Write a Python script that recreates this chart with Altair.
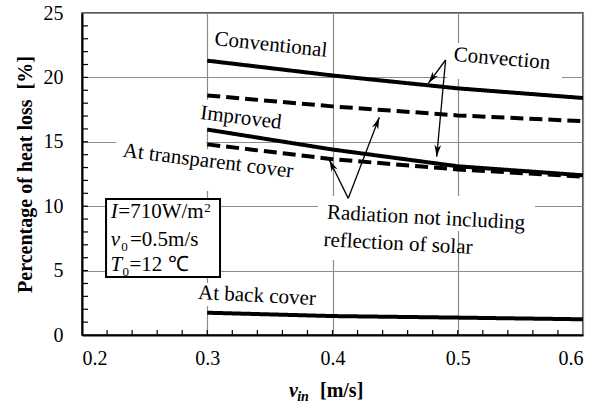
import math
import altair as alt
import pandas as pd

# ---- series values (percentage of heat loss vs inlet air velocity) ----
v_in = [0.3, 0.4, 0.5, 0.6]
conv_convection = [21.3, 20.15, 19.15, 18.4]
conv_radiation = [18.6, 17.75, 17.05, 16.6]
impr_convection = [15.95, 14.4, 13.1, 12.4]
impr_radiation = [14.8, 13.65, 12.85, 12.3]
back_cover = [1.73, 1.47, 1.35, 1.22]

x_ticks = [0.2, 0.3, 0.4, 0.5, 0.6]
y_ticks = [0, 5, 10, 15, 20, 25]
x_minor = [0.22, 0.24, 0.26, 0.28, 0.3, 0.32, 0.34, 0.36, 0.38, 0.4,
           0.42, 0.44, 0.46, 0.48, 0.5, 0.52, 0.54, 0.56, 0.58]
y_minor = [1, 2, 3, 4, 5, 6, 7, 8, 9, 10, 11, 12, 13, 14, 15, 16, 17, 18,
           19, 20, 21, 22, 23, 24]

# ---- annotation text ----
label_text = ["Conventional", "Convection", "Improved", "At transparent cover",
              "Radiation not including", "reflection of solar", "At back cover"]
label_x = [0.3509, 0.5353, 0.3269, 0.3006, 0.4747, 0.4523, 0.3397]
label_y = [22.52, 21.43, 16.85, 13.49, 9.08, 7.07, 3.03]
label_angle = [6, 5, 7, 7, 3, 3, 3]

# white backing boxes behind the annotation text
box_x = [0.3014, 0.4914, 0.2910, 0.2271, 0.2990, 0.3884, 0.3860, 0.2886]
box_x2 = [0.3972, 0.5832, 0.3637, 0.2990, 0.3741, 0.5617, 0.4984, 0.3948]
box_y = [23.84, 22.67, 18.25, 15.45, 14.45, 10.79, 8.23, 4.04]
box_y2 = [21.51, 19.88, 16.07, 11.65, 11.18, 8.07, 5.82, 2.25]

# arrows: (origin) -> (tip)
arrow_x0 = [0.4903, 0.4903, 0.4126, 0.4126]
arrow_y0 = [21.35, 21.35, 10.61, 10.61]
arrow_x1 = [0.4765, 0.4832, 0.4374, 0.3975]
arrow_y1 = [19.54, 13.84, 16.90, 13.59]

# condition box
cond_box = dict(x=0.2192, x2=0.3102, y=10.56, y2=4.50)
cond_main_text = ["=710W/m", "=0.5m/s", "=12 \u2103"]
cond_main_x = [0.2290, 0.2383, 0.2379]
cond_main_y = [9.08, 6.91, 4.97]
cond_sym_text = ["I", "v", "T"]
cond_sym_x = [0.2229, 0.2229, 0.2228]
cond_sym_y = [9.08, 6.91, 4.97]
cond_small_text = ["2", "0", "0"]
cond_small_x = [0.2976, 0.2313, 0.2323]
cond_small_y = [9.55, 6.52, 4.58]

# x-axis title pieces
xt_sym = dict(t="v", x=0.3653, y=-4.81)
xt_sub = dict(t="in", x=0.3718, y=-5.12)
xt_unit = dict(t="[m/s]", x=0.3900, y=-4.81)

W, H = 501, 322
X_DOM = [0.2, 0.6]
Y_DOM = [0, 25]
FONT = "Liberation Serif, Times New Roman, serif"

xs = alt.Scale(domain=X_DOM, nice=False, zero=False)
ys = alt.Scale(domain=Y_DOM, nice=False)

rows = []
for name, kind, vals in [
    ("conventional", "Convection", conv_convection),
    ("conventional", "Radiation", conv_radiation),
    ("improved", "Convection", impr_convection),
    ("improved", "Radiation", impr_radiation),
    ("back", "Convection", back_cover),
]:
    for xv, yv in zip(v_in, vals):
        rows.append({"series": name + "-" + kind, "kind": kind, "v": xv, "p": yv})
lines_df = pd.DataFrame(rows)

base = alt.Chart(lines_df).encode(
    x=alt.X("v:Q", scale=xs,
            axis=alt.Axis(values=x_ticks, format=".1f", title=None, grid=True,
                          ticks=False, labelPadding=13)),
    y=alt.Y("p:Q", scale=ys,
            axis=alt.Axis(values=y_ticks, format="d", ticks=False, grid=True,
                          labelPadding=19,
                          title="Percentage of heat loss\u00a0\u00a0[%]",
                          titleFont=FONT, titleFontWeight="bold",
                          titleFontSize=20, titleX=-57, titleY=H / 2,
                          titleAngle=270, titleAlign="center",
                          titleBaseline="middle")),
)


def text_layer(df, size, **kw):
    return alt.Chart(df).mark_text(font=FONT, fontSize=size, color="black", **kw).encode(
        x=alt.X("x:Q", scale=xs), y=alt.Y("y:Q", scale=ys), text="t:N")


# minor ticks drawn inward
ymin_ticks = alt.Chart(pd.DataFrame({"t": y_minor})).mark_rule(
    color="black", strokeWidth=1.2).encode(
    y=alt.Y("t:Q", scale=ys), x=alt.value(0), x2=alt.value(6))
xmin_ticks = alt.Chart(pd.DataFrame({"t": x_minor})).mark_rule(
    color="black", strokeWidth=1.2).encode(
    x=alt.X("t:Q", scale=xs), y=alt.value(H), y2=alt.value(H - 5))

boxes = alt.Chart(pd.DataFrame({"x": box_x, "x2": box_x2, "y": box_y, "y2": box_y2})
                  ).mark_rect(color="white").encode(
    x=alt.X("x:Q", scale=xs), x2="x2:Q", y=alt.Y("y:Q", scale=ys), y2="y2:Q")

lines = base.mark_line(color="black", strokeWidth=4, strokeCap="butt").encode(
    detail="series:N",
    strokeDash=alt.StrokeDash("kind:N", scale=alt.Scale(
        domain=["Convection", "Radiation"], range=[[1, 0], [13, 6]]), legend=None),
)

# arrows
px_per_x = W / (X_DOM[1] - X_DOM[0])
px_per_y = H / (Y_DOM[1] - Y_DOM[0])
angles = []
for x0, y0, x1, y1 in zip(arrow_x0, arrow_y0, arrow_x1, arrow_y1):
    dx = (x1 - x0) * px_per_x
    dy = -(y1 - y0) * px_per_y
    angles.append(math.degrees(math.atan2(dx, -dy)) % 360)
arrow_df = pd.DataFrame({"x0": arrow_x0, "y0": arrow_y0, "x1": arrow_x1,
                         "y1": arrow_y1, "ang": angles})
shafts = alt.Chart(arrow_df).mark_rule(color="black", strokeWidth=1.3).encode(
    x=alt.X("x0:Q", scale=xs), y=alt.Y("y0:Q", scale=ys), x2="x1:Q", y2="y1:Q")
heads = alt.Chart(arrow_df).mark_point(
    shape="M0,0 L0.45,1.6 L0,1.15 L-0.45,1.6 Z", filled=True, color="black",
    opacity=1, size=220, strokeWidth=0).encode(
    x=alt.X("x1:Q", scale=xs), y=alt.Y("y1:Q", scale=ys),
    angle=alt.Angle("ang:Q", scale=None))

labels = alt.Chart(pd.DataFrame({"t": label_text, "x": label_x, "y": label_y,
                                 "a": label_angle})).mark_text(
    font=FONT, fontSize=21, color="black", align="center", baseline="middle").encode(
    x=alt.X("x:Q", scale=xs), y=alt.Y("y:Q", scale=ys), text="t:N",
    angle=alt.Angle("a:Q", scale=None))

cond_rect = alt.Chart(pd.DataFrame([cond_box])).mark_rect(
    fill="white", stroke="black", strokeWidth=2).encode(
    x=alt.X("x:Q", scale=xs), x2="x2:Q", y=alt.Y("y:Q", scale=ys), y2="y2:Q")
cond_main = text_layer(pd.DataFrame({"t": cond_main_text, "x": cond_main_x,
                                     "y": cond_main_y}), 21,
                       align="left", baseline="alphabetic")
cond_sym = text_layer(pd.DataFrame({"t": cond_sym_text, "x": cond_sym_x,
                                    "y": cond_sym_y}), 21, fontStyle="italic",
                      align="left", baseline="alphabetic")
cond_small = text_layer(pd.DataFrame({"t": cond_small_text, "x": cond_small_x,
                                      "y": cond_small_y}), 13,
                        align="left", baseline="alphabetic")

xt_a = text_layer(pd.DataFrame([xt_sym]), 20, fontWeight="bold", fontStyle="italic",
                  align="left", baseline="alphabetic")
xt_b = text_layer(pd.DataFrame([xt_sub]), 14, fontWeight="bold", fontStyle="italic",
                  align="left", baseline="alphabetic")
xt_c = text_layer(pd.DataFrame([xt_unit]), 20, fontWeight="bold",
                  align="left", baseline="alphabetic")

chart = alt.layer(
    base.mark_line(opacity=0).encode(detail="series:N"),
    boxes, ymin_ticks, xmin_ticks, lines, shafts, heads, labels,
    cond_rect, cond_main, cond_sym, cond_small, xt_a, xt_b, xt_c,
).properties(
    width=W, height=H,
    autosize=alt.AutoSizeParams(type="none"),
    padding={"left": 82, "top": 13, "right": 28, "bottom": 73},
    background="white",
).configure_view(
    stroke="#222", strokeWidth=1.5,
).configure_axis(
    labelFont=FONT, labelFontSize=20, labelColor="black",
    gridColor="#8c8c8c", gridWidth=1.2, gridOpacity=1,
    domainColor="black", domainWidth=2,
)

chart.save("out.html", embed_options={"renderer": "svg", "actions": False})
